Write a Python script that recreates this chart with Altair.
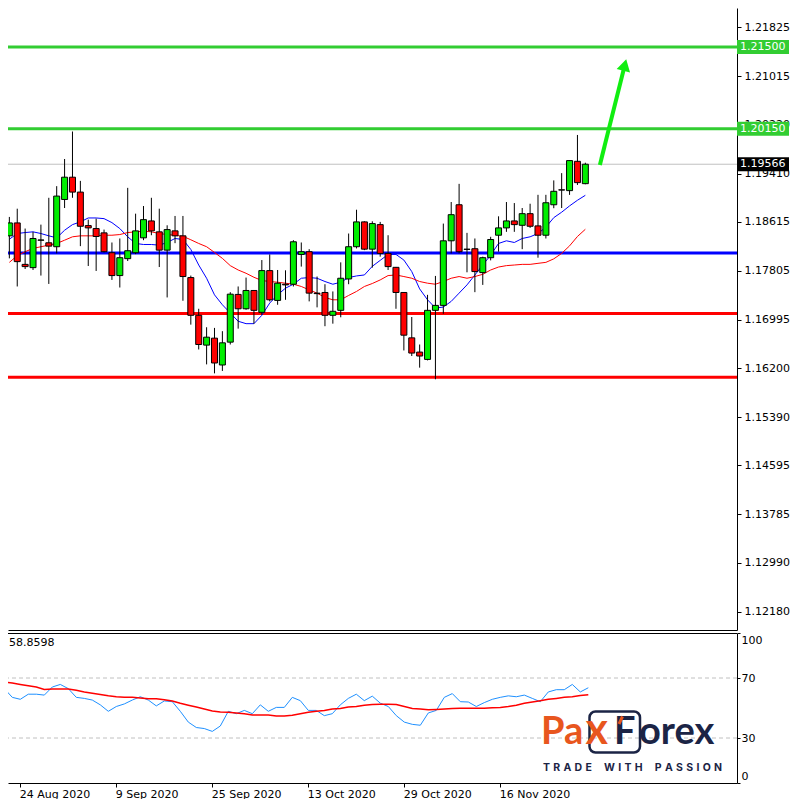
import altair as alt
import pandas as pd

# ---------------- data ----------------
open_ = [
    1.18384, 1.18597, 1.17913, 1.17859, 1.18312, 1.18269, 1.18204, 1.18984, 1.19352, 1.19106,
    1.18553, 1.18504, 1.18433, 1.18105, 1.17728, 1.18007, 1.18105, 1.18351, 1.18630, 1.18450,
    1.18148, 1.18466, 1.18384, 1.17695, 1.17072, 1.16580, 1.16695, 1.16252, 1.16629, 1.17417,
    1.17180, 1.17482, 1.17121, 1.17810, 1.17318, 1.17585, 1.17585, 1.18077, 1.18122, 1.17438,
    1.17449, 1.17072, 1.17154, 1.17672, 1.18204, 1.18614, 1.18164, 1.18569, 1.18094, 1.17864,
    1.17449, 1.16700, 1.16465, 1.16344, 1.17154, 1.17236, 1.18302, 1.18897, 1.18164, 1.18171,
    1.17777, 1.18023, 1.18394, 1.18515, 1.18630, 1.18558, 1.18750, 1.18548, 1.18394, 1.18897,
    1.19143, 1.19130, 1.19614, 1.19245]
high = [
    1.18696, 1.18832, 1.18504, 1.18450, 1.18569, 1.19012, 1.19204, 1.19652, 1.20106, 1.19291,
    1.18651, 1.18668, 1.18487, 1.18274, 1.18340, 1.19176, 1.18750, 1.18876, 1.19012, 1.18832,
    1.18558, 1.18712, 1.18712, 1.17728, 1.17180, 1.16875, 1.16864, 1.16810, 1.17454, 1.17548,
    1.17695, 1.17490, 1.17984, 1.18077, 1.17820, 1.17815, 1.18312, 1.18274, 1.18164, 1.17712,
    1.17585, 1.17466, 1.17946, 1.18422, 1.18815, 1.18624, 1.18624, 1.18614, 1.18394, 1.17870,
    1.17455, 1.17044, 1.16590, 1.17410, 1.17722, 1.18586, 1.18942, 1.19242, 1.18433, 1.18340,
    1.18040, 1.18368, 1.18706, 1.18942, 1.18925, 1.18843, 1.18914, 1.19061, 1.19061, 1.19299,
    1.19419, 1.19630, 1.20049, 1.19591]
low = [
    1.18012, 1.17548, 1.17836, 1.17820, 1.17728, 1.17590, 1.18094, 1.18843, 1.19012, 1.18214,
    1.17886, 1.17804, 1.18110, 1.17656, 1.17531, 1.17968, 1.18082, 1.18312, 1.18394, 1.17869,
    1.17367, 1.18263, 1.17312, 1.16918, 1.16508, 1.16262, 1.16114, 1.16154, 1.16590, 1.16852,
    1.17164, 1.16934, 1.17082, 1.17302, 1.17246, 1.17328, 1.17548, 1.17876, 1.17302, 1.17203,
    1.16892, 1.16934, 1.17039, 1.17585, 1.18176, 1.18148, 1.17859, 1.18040, 1.17820, 1.17180,
    1.16492, 1.16400, 1.16208, 1.16328, 1.16016, 1.17098, 1.18094, 1.18094, 1.17782, 1.17454,
    1.17574, 1.17979, 1.18122, 1.18450, 1.18450, 1.18164, 1.18515, 1.18023, 1.18340, 1.18840,
    1.18843, 1.19060, 1.19224, 1.19235]
close = [
    1.18597, 1.17958, 1.17876, 1.18340, 1.18315, 1.18214, 1.19040, 1.19352, 1.19106, 1.18542,
    1.18515, 1.18373, 1.18122, 1.17728, 1.18023, 1.18138, 1.18466, 1.18651, 1.18466, 1.18148,
    1.18487, 1.18384, 1.17712, 1.17072, 1.16590, 1.16711, 1.16285, 1.16618, 1.17421, 1.17180,
    1.17482, 1.17154, 1.17810, 1.17328, 1.17602, 1.17574, 1.18286, 1.18122, 1.17438, 1.17430,
    1.17072, 1.17138, 1.17684, 1.18204, 1.18614, 1.18164, 1.18586, 1.18094, 1.17876, 1.17449,
    1.16744, 1.16449, 1.16400, 1.17154, 1.17236, 1.18302, 1.18733, 1.18122, 1.18160, 1.17794,
    1.18023, 1.18323, 1.18515, 1.18630, 1.18569, 1.18750, 1.18542, 1.18394, 1.18930, 1.19119,
    1.19140, 1.19626, 1.19262, 1.19566]
ma_fast = [
    1.18328, 1.18422, 1.18438, 1.18450, 1.18422, 1.18384, 1.18351, 1.18476, 1.18569, 1.18614,
    1.18679, 1.18679, 1.18668, 1.18602, 1.18504, 1.18368, 1.18258, 1.18241, 1.18241, 1.18230,
    1.18274, 1.18340, 1.18323, 1.18159, 1.17902, 1.17684, 1.17410, 1.17246, 1.17110, 1.16974,
    1.16934, 1.16934, 1.17072, 1.17274, 1.17410, 1.17520, 1.17585, 1.17684, 1.17695, 1.17684,
    1.17630, 1.17585, 1.17618, 1.17695, 1.17722, 1.17738, 1.17881, 1.17979, 1.18077, 1.18077,
    1.17984, 1.17794, 1.17508, 1.17328, 1.17192, 1.17208, 1.17302, 1.17438, 1.17574, 1.17738,
    1.17902, 1.18066, 1.18258, 1.18302, 1.18274, 1.18340, 1.18368, 1.18422, 1.18527, 1.18684,
    1.18774, 1.18878, 1.18971, 1.19053]
ma_slow = [
    1.17946, 1.18056, 1.18122, 1.18176, 1.18204, 1.18230, 1.18258, 1.18312, 1.18368, 1.18384,
    1.18384, 1.18384, 1.18394, 1.18394, 1.18405, 1.18438, 1.18450, 1.18460, 1.18450, 1.18422,
    1.18405, 1.18394, 1.18376, 1.18319, 1.18258, 1.18204, 1.18110, 1.18012, 1.17892, 1.17820,
    1.17766, 1.17700, 1.17646, 1.17630, 1.17618, 1.17602, 1.17585, 1.17548, 1.17492, 1.17438,
    1.17367, 1.17328, 1.17328, 1.17400, 1.17466, 1.17548, 1.17597, 1.17656, 1.17728, 1.17738,
    1.17712, 1.17684, 1.17630, 1.17602, 1.17585, 1.17630, 1.17684, 1.17712, 1.17684, 1.17712,
    1.17749, 1.17820, 1.17869, 1.17892, 1.17902, 1.17913, 1.17913, 1.17930, 1.17946, 1.18004,
    1.18094, 1.18218, 1.18373, 1.18492]
rsi = [
    62.9, 57.1, 55.8, 59.2, 59.2, 58.6, 64.0, 65.7, 62.9, 57.1,
    56.4, 55.3, 52.1, 47.8, 51.0, 52.7, 55.3, 57.5, 55.3, 51.4,
    54.7, 54.2, 47.8, 40.6, 37.0, 36.3, 34.4, 38.0, 47.8, 46.2,
    48.4, 46.2, 52.1, 47.8, 50.4, 50.4, 57.1, 54.9, 48.4, 48.4,
    44.9, 46.2, 52.1, 56.4, 59.2, 54.9, 57.9, 53.2, 51.0, 44.9,
    40.6, 39.1, 38.5, 46.7, 48.4, 57.1, 59.6, 54.2, 54.0, 51.0,
    53.6, 55.8, 57.1, 58.1, 57.5, 58.6, 56.4, 54.2, 60.7, 62.2,
    62.2, 65.7, 60.7, 63.5]
rsi_ma = [
    67.2, 66.6, 65.7, 64.8, 64.0, 62.4, 62.7, 62.7, 62.7, 61.8,
    60.7, 59.9, 59.0, 58.1, 57.5, 57.1, 57.1, 56.6, 56.2, 56.2,
    55.5, 54.7, 53.2, 51.9, 50.6, 49.3, 48.0, 47.3, 47.1, 46.7,
    46.2, 45.4, 45.4, 45.4, 44.7, 44.7, 45.2, 46.2, 47.1, 47.8,
    48.4, 49.3, 49.7, 50.6, 51.0, 51.9, 52.3, 52.5, 52.5, 52.3,
    51.0, 49.7, 49.3, 48.8, 49.0, 49.3, 49.7, 49.9, 49.9, 49.9,
    49.9, 50.1, 50.4, 51.0, 51.9, 53.2, 54.0, 54.9, 55.8, 56.4,
    57.1, 57.5, 58.3, 58.86]

price_ticks = [1.21825, 1.21015, 1.20220, 1.19410, 1.18615, 1.17805, 1.16995,
               1.16200, 1.15390, 1.14595, 1.13785, 1.12990, 1.12180]
date_tick_index = [2, 14, 26, 38, 50, 62]
date_tick_labels = ["24 Aug 2020", "9 Sep 2020", "25 Sep 2020",
                    "13 Oct 2020", "29 Oct 2020", "16 Nov 2020"]
rsi_ticks = [0, 30, 70, 100]
rsi_levels = [30, 70]

green_levels = [1.21500, 1.20150]
blue_levels = [1.18100]
red_levels = [1.17100, 1.16050]
current_price = 1.19566
rsi_header = "58.8598"

arrow_index = [74.84, 78.0]
arrow_price = [1.19553, 1.21205]

# ---------------- layout ----------------
W = 729
H_MAIN = 622
H_RSI = 150
X_DOMAIN = [0.4625, 91.5875]
Y_DOMAIN = [1.118774, 1.221448]

FONT = "DejaVu Sans"
GREEN_BODY = "#00EE00"
RED = "#FF0000"
LEVEL_GREEN = "#32CD32"
NAVY = "#1B2445"
ORANGE = "#E8561E"

df = pd.DataFrame({"k": list(range(len(close))), "open": open_, "high": high,
                   "low": low, "close": close, "ma_fast": ma_fast, "ma_slow": ma_slow,
                   "rsi": rsi, "rsi_ma": rsi_ma})
df["dir"] = ["up" if c >= o else "down" for o, c in zip(open_, close)]

xs = alt.Scale(domain=X_DOMAIN, nice=False, zero=False)
ys = alt.Scale(domain=Y_DOMAIN, nice=False, zero=False)
rs = alt.Scale(domain=[0, 100], nice=False, zero=False)

levels_df = pd.DataFrame({
    "p": green_levels + blue_levels + red_levels,
    "c": [LEVEL_GREEN] * len(green_levels) + ["#0000FF"] * len(blue_levels) + [RED] * len(red_levels),
})
cur_df = pd.DataFrame({"p": [current_price]})
tags_df = pd.DataFrame({
    "p": green_levels + [current_price],
    "c": [LEVEL_GREEN] * len(green_levels) + ["#000000"],
    "t": [f"{v:.5f}" for v in green_levels + [current_price]],
})
arrow_df = pd.DataFrame({"k": arrow_index, "p": arrow_price})

price_axis = alt.Axis(orient="right", values=price_ticks, format=".5f", tickSize=4,
                      labelPadding=3, labelOverlap=False, title=None, grid=False)
main_x_axis = alt.Axis(orient="bottom", labels=False, ticks=False, domain=True,
                       title=None, grid=False)


def MX(field="k"):
    return alt.X(f"{field}:Q", scale=xs, axis=main_x_axis)


def MY(field):
    return alt.Y(f"{field}:Q", scale=ys, axis=price_axis)


cur_line = alt.Chart(cur_df).mark_rule(color="#C0C0C0", strokeWidth=1, clip=True).encode(y=MY("p"))
levels = alt.Chart(levels_df).mark_rule(strokeWidth=3, clip=True).encode(
    y=MY("p"), color=alt.Color("c:N", scale=None))
ma1 = alt.Chart(df).mark_line(color="#0000FF", strokeWidth=1, clip=True).encode(
    x=MX(), y=MY("ma_fast"))
ma2 = alt.Chart(df).mark_line(color=RED, strokeWidth=1, clip=True).encode(
    x=MX(), y=MY("ma_slow"))
wicks = alt.Chart(df).mark_rule(color="black", strokeWidth=1, clip=True).encode(
    x=MX(), y=MY("low"), y2="high:Q")
bodies = alt.Chart(df).mark_bar(size=6, stroke="black", strokeWidth=1, clip=True).encode(
    x=MX(), y=MY("open"), y2="close:Q",
    color=alt.Color("dir:N", scale=alt.Scale(domain=["up", "down"], range=[GREEN_BODY, RED]),
                    legend=None))
arrow_line = alt.Chart(arrow_df).mark_line(color="#11EE11", strokeWidth=4).encode(
    x=MX(), y=MY("p"))
arrow_head = alt.Chart(arrow_df.tail(1)).mark_point(
    shape="triangle-up", filled=True, size=190, angle=14, color="#11EE11", opacity=1).encode(
    x=MX(), y=MY("p"))
tag_box = alt.Chart(tags_df).mark_rect(yOffset=-7, y2Offset=7).encode(
    x=alt.value(729), x2=alt.value(781), y=MY("p"), y2="p:Q",
    color=alt.Color("c:N", scale=None))
tag_text = alt.Chart(tags_df).mark_text(align="left", baseline="middle", font=FONT,
                                        fontSize=11, color="white").encode(
    x=alt.value(732), y=MY("p"), text="t:N")

main = alt.layer(cur_line, levels, ma1, ma2, wicks, bodies, arrow_line, arrow_head,
                 tag_box, tag_text).properties(width=W, height=H_MAIN)

# ---------------- RSI panel ----------------
label_expr = " : ".join(f"datum.value == {i} ? '{t}'" for i, t in zip(date_tick_index, date_tick_labels)) + " : ''"
rsi_axis = alt.Axis(orient="right", values=rsi_ticks, tickSize=3, labelPadding=1, title=None,
                    grid=False, labelOverlap=False, labelBaseline="middle",
                    labelOffset={"condition": [{"test": "datum.value == 100", "value": 7},
                                               {"test": "datum.value == 0", "value": -7}],
                                 "value": 0})
date_axis = alt.Axis(orient="bottom", values=date_tick_index, labelExpr=label_expr,
                     tickSize=4, labelPadding=1, labelAlign="left", labelFlush=False,
                     labelOffset=-1, title=None, grid=False, labelOverlap=False)


def RX():
    return alt.X("k:Q", scale=xs, axis=date_axis)


def RY(field):
    return alt.Y(f"{field}:Q", scale=rs, axis=rsi_axis)


rsi_lv = alt.Chart(pd.DataFrame({"v": rsi_levels})).mark_rule(
    color="#C0C0C0", strokeDash=[4, 3], strokeWidth=1, clip=True).encode(y=RY("v"))
rsi_line = alt.Chart(df).mark_line(color="#1E90FF", strokeWidth=1, clip=True).encode(
    x=RX(), y=RY("rsi"))
rsi_ma_line = alt.Chart(df).mark_line(color=RED, strokeWidth=1.5, clip=True).encode(
    x=RX(), y=RY("rsi_ma"))
top_border = alt.Chart(pd.DataFrame({"a": [0]})).mark_rule(
    color="black", strokeWidth=1, clip=True).encode(
    x=alt.value(0), x2=alt.value(W), y=alt.value(0.5))
header = alt.Chart(pd.DataFrame({"t": [rsi_header]})).mark_text(
    align="left", baseline="middle", font=FONT, fontSize=11, color="black").encode(
    x=alt.value(1), y=alt.value(10), text="t:N")

# watermark logo
logo_df = pd.DataFrame({"t": ["Pa", "x", "F", "orex"],
                        "x": [533, 577.5, 606, 631],
                        "c": [ORANGE, ORANGE, NAVY, NAVY],
                        "fs": [38, 43, 38, 38]})
logo_parts = alt.Chart(logo_df).mark_text(
    align="left", baseline="alphabetic", font="Lato", fontWeight="bold").encode(
    x=alt.X("x:Q", scale=None), y=alt.value(111), text="t:N",
    size=alt.Size("fs:Q", scale=None, legend=None),
    color=alt.Color("c:N", scale=None))
logo_box = alt.Chart(pd.DataFrame({"a": [0]})).mark_rect(
    filled=False, stroke=NAVY, strokeWidth=2.5, cornerRadius=6).encode(
    x=alt.value(581.5), x2=alt.value(632), y=alt.value(78.5), y2=alt.value(119.5))
logo_tick = alt.Chart(pd.DataFrame({"a": [0]})).mark_rule(
    color=ORANGE, strokeWidth=3).encode(
    x=alt.value(614.5), x2=alt.value(611), y=alt.value(83.5), y2=alt.value(91))
TS = "\u2009\u200a\u200a"
tag_words = ["TRADE", "WITH", "PASSION"]
tagline_text = "\u2003\u2009".join(TS.join(w) for w in tag_words)
tagline = alt.Chart(pd.DataFrame({"t": [tagline_text]})).mark_text(
    align="center", baseline="middle", font="Inter", fontSize=10.5, fontWeight="bold",
    color=NAVY).encode(x=alt.value(624.5), y=alt.value(135), text="t:N")

rsi_panel = alt.layer(rsi_lv, rsi_line, rsi_ma_line, top_border, header,
                      logo_box, logo_parts, logo_tick, tagline).properties(width=W, height=H_RSI)

chart = alt.vconcat(main, rsi_panel, spacing=2).properties(
    padding={"left": 0, "top": 0, "right": 0, "bottom": 0}, background="white"
).configure_view(stroke=None).configure_axis(
    labelFont=FONT, labelFontSize=11, labelColor="black", domainColor="black",
    tickColor="black", domainWidth=1, grid=False)

chart.save("out.html", embed_options={"renderer": "svg", "actions": False})
